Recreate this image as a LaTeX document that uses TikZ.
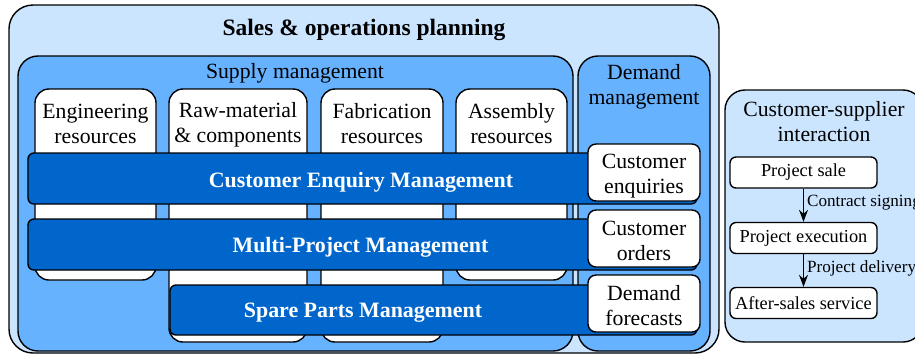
\documentclass[tikz,border=0pt]{standalone}
\usepackage{fontspec}
\setmainfont{Liberation Serif}
\usetikzlibrary{arrows.meta}

\definecolor{lightblue}{HTML}{CCE5FF}
\definecolor{midblue}{HTML}{66B2FF}
\definecolor{darkblue}{HTML}{0066CC}

\tikzstyle{plan}=[draw, fill=lightblue, rounded corners=12bp, line width=0.7pt, inner sep=0pt]
\tikzstyle{area}=[draw, fill=midblue, rounded corners=10bp, line width=0.7pt, inner sep=0pt]
\tikzstyle{res}=[draw, fill=white, rounded corners=7bp, line width=0.7pt, inner sep=0pt]
\tikzstyle{bar}=[draw, fill=darkblue, rounded corners=3bp, line width=0.7pt, inner sep=0pt]
\tikzstyle{dem}=[draw, fill=white, rounded corners=4bp, line width=0.7pt, inner sep=0pt, minimum width=56bp, minimum height=28.5bp]
\tikzstyle{phase}=[draw, fill=white, rounded corners=3bp, line width=0.7pt, inner sep=0pt, minimum width=73.5bp, minimum height=15.5bp, font=\fontsize{9.2}{11}\selectfont]
\tikzstyle{txt}=[inner sep=0pt, align=center, font=\fontsize{10.9}{12.5}\selectfont]
\tikzstyle{head}=[inner sep=0pt, font=\fontsize{11.8}{14}\selectfont\bfseries]
\tikzstyle{bold}=[inner sep=0pt, text=white, font=\fontsize{11}{13}\selectfont\bfseries]
\tikzstyle{flow}=[draw, line width=0.6pt, -{Stealth[length=6bp, width=4.5bp, inset=2bp]}]

\begin{document}
\begin{tikzpicture}[x=0.5bp, y=-0.5bp]
        \useasboundingbox (0,0) rectangle (915,355);
        \clip (0,0) rectangle (915,355);

        \draw (364,179)   node[plan, minimum width=355bp, minimum height=174bp](sop){};
        \draw (364,30)    node[head](sopt){Sales \& operations planning};
        \draw (295.5,203.5) node[area, minimum width=277.5bp, minimum height=147.5bp](sup){};
        \draw (644,203.5) node[area, minimum width=66bp, minimum height=147.5bp](dmd){};
        \draw (295,73)    node[txt](supt){Supply management};
        \draw (644,86.5)  node[txt](dmdt){Demand\\management};
        %
        \draw (95.5,184.5) node[res, minimum width=60.5bp, minimum height=95.5bp](eng){};
        \draw (238,215.5)  node[res, minimum width=69bp, minimum height=126.5bp](raw){};
        \draw (382,215.5)  node[res, minimum width=61bp, minimum height=126.5bp](fab){};
        \draw (511.5,184.5) node[res, minimum width=55.5bp, minimum height=95.5bp](asm){};
        \draw (95.5,124)  node[txt](engt){Engineering\\resources};
        \draw (238,125)   node[txt](rawt){Raw-material\\\& components};
        \draw (382,124)   node[txt](fabt){Fabrication\\resources};
        \draw (511.5,124) node[txt](asmt){Assembly\\resources};
        %
        \draw (362.5,178.5) node[bar, minimum width=334.5bp, minimum height=25.5bp](cem){};
        \draw (362.5,244.5) node[bar, minimum width=334.5bp, minimum height=25.5bp](mpm){};
        \draw (433.5,310)   node[bar, minimum width=263.5bp, minimum height=25bp](spm){};
        \draw (361,182)   node[bold](cemt){Customer Enquiry Management};
        \draw (360.5,247) node[bold](mpmt){Multi-Project Management};
        \draw (363,312.5) node[bold](spmt){Spare Parts Management};
        %
        \draw (644,172.5) node[dem](enq){};
        \draw (644,238.5) node[dem](ord){};
        \draw (644,303.5) node[dem](fc){};
        \draw (644,176)   node[txt](enqt){Customer\\enquiries};
        \draw (644,240.5) node[txt](ordt){Customer\\orders};
        \draw (644,306)   node[txt](fct){Demand\\forecasts};
        %
        \draw (824,216)   node[plan, rounded corners=10bp, minimum width=99bp, minimum height=126bp](csi){};
        \draw (824,121.5) node[txt](csit){Customer-supplier\\interaction};
        \draw (803.5,172.5) node[phase](sale){Project sale};
        \draw (803.5,238)   node[phase](exe){Project execution};
        \draw (803.5,303)   node[phase](aft){After-sales service};
        %
        \path[every node/.style={font=\fontsize{8.6}{10}\selectfont, anchor=west, inner sep=1.5bp}]
            (sale)  edge[flow]  node[pos=0.42]{Contract signing}  (exe)
            (exe)   edge[flow]  node[pos=0.45]{Project delivery}  (aft)
        ;
\end{tikzpicture}
\end{document}
